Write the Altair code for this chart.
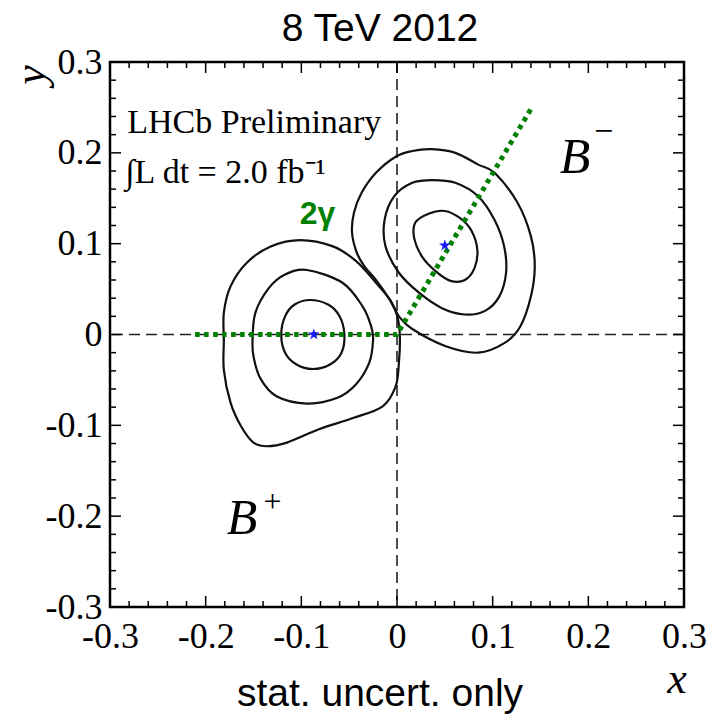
import altair as alt
import pandas as pd

# ---- plot geometry -------------------------------------------------------
W, H = 574, 545
LO, HI = -0.3, 0.3

# ---- axis ticks ----------------------------------------------------------
major_ticks = [-0.3, -0.2, -0.1, 0.0, 0.1, 0.2, 0.3]
tick_labels = ["-0.3", "-0.2", "-0.1", "0", "0.1", "0.2", "0.3"]
minor_ticks = [round(a + k * 0.02, 2) for a in major_ticks[:-1] for k in range(1, 5)]

# ---- confidence contours (x, y) -----------------------------------------
bp_outer_x = [-0.101, -0.067, -0.043, -0.022, -0.0065, 0.0003, 0.003, 0.002, -0.0014, -0.015, -0.046, -0.081,
              -0.115, -0.136, -0.150, -0.163, -0.174, -0.181, -0.181, -0.181, -0.174, -0.157, -0.132]
bp_outer_y = [0.104, 0.097, 0.081, 0.057, 0.037, 0.020, -0.002, -0.031, -0.057, -0.079, -0.092, -0.104,
              -0.119, -0.123, -0.119, -0.101, -0.075, -0.039, -0.006, 0.024, 0.053, 0.079, 0.097]

bp_mid_x = [-0.094, -0.057, -0.036, -0.027, -0.025, -0.029, -0.043, -0.063, -0.094, -0.126, -0.143, -0.150,
            -0.151, -0.148, -0.134, -0.117]
bp_mid_y = [0.071, 0.057, 0.031, 0.009, -0.006, -0.031, -0.055, -0.070, -0.076, -0.068, -0.048, -0.024,
            -0.006, 0.024, 0.051, 0.066]

bp_inner_x = [-0.091, -0.072, -0.060, -0.055, -0.058, -0.070, -0.088, -0.105, -0.117, -0.121, -0.117, -0.107]
bp_inner_y = [0.038, 0.033, 0.020, 0.000, -0.020, -0.033, -0.038, -0.033, -0.020, 0.000, 0.020, 0.033]

bm_outer_x = [0.036, 0.061, 0.085, 0.102, 0.126, 0.140, 0.144, 0.140, 0.129, 0.113, 0.085, 0.051,
              0.016, 0.002, -0.008, -0.022, -0.034, -0.042, -0.047, -0.045, -0.037, -0.022, -0.001, 0.016]
bm_outer_y = [0.204, 0.200, 0.187, 0.178, 0.145, 0.108, 0.075, 0.042, 0.009, -0.009, -0.020, -0.013,
              0.006, 0.020, 0.039, 0.060, 0.075, 0.090, 0.112, 0.134, 0.156, 0.178, 0.196, 0.202]

bm_mid_x = [0.037, 0.061, 0.085, 0.102, 0.112, 0.114, 0.107, 0.092, 0.071, 0.047, 0.023, 0.002,
            -0.012, -0.013, -0.003, 0.016]
bm_mid_y = [0.170, 0.167, 0.152, 0.126, 0.097, 0.068, 0.042, 0.026, 0.022, 0.029, 0.046, 0.068,
            0.097, 0.126, 0.152, 0.167]

bm_inner_x = [0.033, 0.050, 0.066, 0.078, 0.084, 0.081, 0.071, 0.056, 0.040, 0.026, 0.018, 0.019]
bm_inner_y = [0.133, 0.136, 0.128, 0.114, 0.093, 0.073, 0.060, 0.059, 0.070, 0.086, 0.106, 0.123]

# best-fit points
centre_x = [-0.087, 0.050]
centre_y = [0.000, 0.098]

# 2-gamma construction line
gamma_x = [-0.211, 0.0, 0.141]
gamma_y = [0.0, 0.0, 0.250]

# ---- tables --------------------------------------------------------------
contours = []
for cid, (xs, ys) in enumerate([(bp_outer_x, bp_outer_y), (bp_mid_x, bp_mid_y), (bp_inner_x, bp_inner_y),
                                (bm_outer_x, bm_outer_y), (bm_mid_x, bm_mid_y), (bm_inner_x, bm_inner_y)]):
    for i, (a, b) in enumerate(zip(xs, ys)):
        contours.append({"cid": cid, "idx": i, "x": a, "y": b})
contours = pd.DataFrame(contours)

centres = pd.DataFrame({"x": centre_x, "y": centre_y})
gamma = pd.DataFrame({"x": gamma_x, "y": gamma_y, "idx": list(range(len(gamma_x)))})

MAJ_LEN, MIN_LEN = 11, 6
dxp, dyp = (HI - LO) / W, (HI - LO) / H
tick_rows = []
for v in major_ticks + minor_ticks:
    L = MAJ_LEN if v in major_ticks else MIN_LEN
    tick_rows += [
        {"x": v, "x2": v, "y": LO, "y2": LO + L * dyp},
        {"x": v, "x2": v, "y": HI, "y2": HI - L * dyp},
        {"x": LO, "x2": LO + L * dxp, "y": v, "y2": v},
        {"x": HI, "x2": HI - L * dxp, "y": v, "y2": v},
    ]
ticks = pd.DataFrame(tick_rows)

SX = alt.Scale(domain=[LO, HI], nice=False, zero=False)
SY = alt.Scale(domain=[LO, HI], nice=False, zero=False)

SERIF = "Liberation Serif"
SANS = "Liberation Sans"

# tick value -> printed label
label_expr = f"{tick_labels}[indexof({major_ticks}, datum.value)]"

axis_common = dict(values=major_ticks, labelExpr=label_expr, title="", grid=False, ticks=False,
                   tickSize=0, domain=False, labelFont=SERIF, labelFontSize=36, labelColor="black",
                   labelFlush=False, labelOverlap=False)
x_axis = alt.Axis(labelPadding=12, **axis_common)
y_axis = alt.Axis(labelPadding=8, **axis_common)


def X(field):
    return alt.X(field, type="quantitative", scale=SX, axis=x_axis)


def Y(field):
    return alt.Y(field, type="quantitative", scale=SY, axis=y_axis)


# zero lines
zero_v = alt.Chart(pd.DataFrame({"x": [0.0]})).mark_rule(
    color="#222", strokeWidth=1.6, strokeDash=[11, 6]).encode(x=X("x"))
zero_h = alt.Chart(pd.DataFrame({"y": [0.0]})).mark_rule(
    color="#222", strokeWidth=1.6, strokeDash=[11, 6]).encode(y=Y("y"))

contour_layer = alt.Chart(contours).mark_line(
    interpolate="cardinal-closed", color="#111", strokeWidth=2.2
).encode(x=X("x"), y=Y("y"), detail="cid:N", order="idx:Q")

gamma_layer = alt.Chart(gamma).mark_line(
    color="#008000", strokeWidth=5, strokeDash=[4.5, 4.5]
).encode(x=X("x"), y=Y("y"), order="idx:Q")

STAR = ("M0,-1L0.2245,-0.309L0.951,-0.309L0.363,0.118L0.588,0.809L0,0.382"
        "L-0.588,0.809L-0.363,0.118L-0.951,-0.309L-0.2245,-0.309Z")
centre_layer = alt.Chart(centres).mark_point(
    shape=STAR, filled=True, color="#1a1aff", size=150, opacity=1
).encode(x=X("x"), y=Y("y"))

tick_layer = alt.Chart(ticks).mark_rule(color="black", strokeWidth=1.5).encode(
    x=X("x"), x2="x2", y=Y("y"), y2="y2")


def label(text, x, y, size, font=SERIF, style="normal", weight="normal", color="black",
          align="left", baseline="alphabetic", angle=0, pixel=False):
    df = pd.DataFrame({"t": [text], "x": [x], "y": [y]})
    if pixel:
        enc_x, enc_y = alt.value(x), alt.value(y)
    else:
        enc_x, enc_y = X("x"), Y("y")
    return alt.Chart(df).mark_text(
        font=font, fontSize=size, fontStyle=style, fontWeight=weight, color=color,
        align=align, baseline=baseline, angle=angle
    ).encode(x=enc_x, y=enc_y, text="t:N")


labels = [
    label("LHCb Preliminary", -0.282, 0.222, 34),
    label("∫L dt = 2.0 fb⁻¹", -0.284, 0.167, 34),
    label("2γ", -0.083, 0.122, 32, font=SANS, weight="bold", color="#008000", align="center"),
    label("B", 0.170, 0.178, 50, style="italic"),
    label("−", 0.216, 0.212, 34, align="center"),
    label("B", -0.178, -0.220, 50, style="italic"),
    label("+", -0.130, -0.195, 32, align="center"),
    # outside the frame, pixel positions relative to the plot origin
    label("8 TeV 2012", 270, -21, 39, font=SANS, align="center", pixel=True),
    label("stat. uncert. only", 270, 644, 39, font=SANS, align="center", pixel=True),
    label("x", 567, 631, 44, style="italic", align="center", pixel=True),
    label("y", -78, 13, 44, style="italic", align="center", baseline="middle", angle=270, pixel=True),
]

chart = alt.layer(
    zero_v, zero_h, contour_layer, gamma_layer, centre_layer, tick_layer, *labels
).properties(
    width=W, height=H,
    autosize=alt.AutoSizeParams(type="none"),
    padding={"left": 110, "top": 62, "right": 23, "bottom": 112},
    background="white",
).configure_view(stroke="black", strokeWidth=2.5)

chart.save("out.html", embed_options={"renderer": "svg", "actions": False})
